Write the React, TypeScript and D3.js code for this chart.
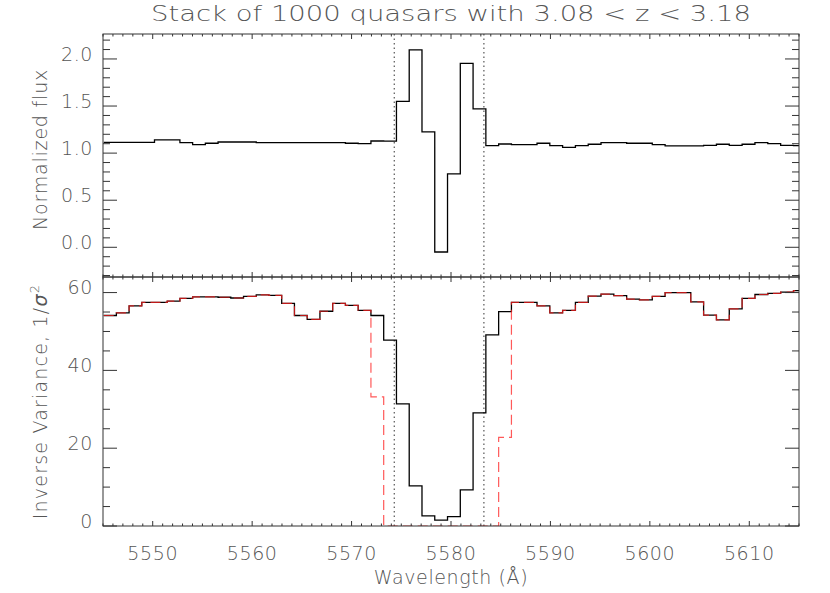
import React from "react";
import * as d3 from "d3";

// BOSS-like log-lambda pixel grid (bin edges)
const logLambdaStart = 3.743907;
const dLogLambda = 1e-4;

const title = "Stack of 1000 quasars with 3.08 < z < 3.18";

const flux = [
  1.115, 1.115, 1.115, 1.115, 1.14, 1.14, 1.111, 1.09, 1.105, 1.118,
  1.118, 1.118, 1.111, 1.111, 1.111, 1.111, 1.111, 1.111, 1.111, 1.105,
  1.1, 1.129, 1.128, 1.55, 2.096, 1.225, -0.05, 0.78, 1.954, 1.469,
  1.079, 1.097, 1.09, 1.09, 1.105, 1.079, 1.062, 1.079, 1.094, 1.111,
  1.111, 1.105, 1.105, 1.09, 1.076, 1.076, 1.076, 1.083, 1.094, 1.083,
  1.094, 1.111, 1.1, 1.083, 1.079,
];

const ivar = [
  54.1, 54.8, 56.6, 57.5, 57.5, 57.8, 58.5, 58.9, 58.9, 58.8,
  58.6, 59.0, 59.4, 59.3, 57.2, 54.1, 53.1, 55.2, 57.2, 56.7,
  55.4, 54.1, 47.8, 31.4, 10.3, 2.6, 1.5, 2.4, 9.3, 29.1,
  49.1, 55.1, 57.5, 57.5, 56.6, 54.8, 55.4, 57.5, 59.1, 59.6,
  59.2, 58.3, 58.1, 59.0, 60.0, 60.0, 57.6, 54.2, 53.0, 55.8,
  58.5, 59.5, 59.8, 60.1, 60.5,
];

const ivarMasked = [
  54.1, 54.8, 56.6, 57.5, 57.5, 57.8, 58.5, 58.9, 58.9, 58.8,
  58.6, 59.0, 59.4, 59.3, 57.2, 54.1, 53.1, 55.2, 57.2, 56.7,
  55.4, 33.2, 0, 0, 0, 0, 0, 0, 0, 0,
  0, 22.8, 57.5, 57.5, 56.6, 54.8, 55.4, 57.5, 59.1, 59.6,
  59.2, 58.3, 58.1, 59.0, 60.0, 60.0, 57.6, 54.2, 53.0, 55.8,
  58.5, 59.5, 59.8, 60.1, 60.5,
];

const maskBounds = [5574.29, 5583.31];
const xTicks = [5550, 5560, 5570, 5580, 5590, 5600, 5610];
const fluxTicks = [0, 0.5, 1.0, 1.5, 2.0];
const ivarTicks = [0, 20, 40, 60];

const W = 830;
const H = 593;
const left = 103;
const right = 799;
const topY0 = 34;
const midY = 277;
const botY1 = 526;

const FONT = "'DejaVu Sans', sans-serif";
const WEIGHT = 200;
const TXT = "#555";
const AX = "#333";

export default function App() {
  const n = flux.length;
  const edges = d3.range(n + 1).map((i) => Math.pow(10, logLambdaStart + i * dLogLambda));

  const x = d3.scaleLinear().domain([5545, 5615]).range([left, right]);
  const yTop = d3.scaleLinear().domain([-0.3155, 2.265]).range([midY, topY0]);
  const yBot = d3.scaleLinear().domain([0, 64]).range([botY1, midY]);

  const stepPath = (vals: number[], y: d3.ScaleLinear<number, number>) => {
    const pts: [number, number][] = edges.map((e, i) => [x(e), y(vals[Math.min(i, n - 1)])]);
    return d3.line().curve(d3.curveStepAfter)(pts) || "";
  };

  const xMinor = d3.range(5545, 5616, 1);
  const fluxMinor = d3.range(-0.3, 2.26, 0.1).map((v) => Math.round(v * 10) / 10);
  const ivarMinor = d3.range(0, 64, 5);

  const labelOffset = 5;

  const xTickMarks = (yAxis: number, dir: number, key: string) => (
    <g key={key}>
      {xMinor.map((t) => {
        const major = xTicks.includes(t);
        const len = major ? 5 : 2.5;
        return (
          <line key={t} x1={x(t)} x2={x(t)} y1={yAxis} y2={yAxis + dir * len} stroke={AX} strokeWidth={1} />
        );
      })}
    </g>
  );

  const yTickMarks = (
    ys: d3.ScaleLinear<number, number>,
    minors: number[],
    majors: number[],
    key: string
  ) => (
    <g key={key}>
      {minors.map((t) => {
        const major = majors.some((m) => Math.abs(m - t) < 1e-6);
        const len = major ? 14 : 7;
        const yy = ys(t);
        return (
          <g key={t}>
            <line x1={left} x2={left + len} y1={yy} y2={yy} stroke={AX} strokeWidth={1} />
            <line x1={right} x2={right - len} y1={yy} y2={yy} stroke={AX} strokeWidth={1} />
          </g>
        );
      })}
    </g>
  );

  const textProps = { fontFamily: FONT, fontWeight: WEIGHT, fill: TXT };

  return (
    <svg width={W} height={H} style={{ display: "block", position: "absolute", left: 0, top: 0 }}>
      <rect x={0} y={0} width={W} height={H} fill="#fff" />
      <defs>
        <clipPath id="clipTop">
          <rect x={left} y={topY0} width={right - left} height={midY - topY0} />
        </clipPath>
        <clipPath id="clipBot">
          <rect x={left} y={midY} width={right - left} height={botY1 - midY} />
        </clipPath>
      </defs>

      <text
        x={(left + right) / 2}
        y={21}
        textAnchor="middle"
        fontSize={22}
        textLength={600}
        lengthAdjust="spacingAndGlyphs"
        {...textProps}
      >
        {title}
      </text>

      {/* mask bounds */}
      {maskBounds.map((m) => (
        <line
          key={m}
          x1={x(m)}
          x2={x(m)}
          y1={topY0}
          y2={botY1}
          stroke="#333"
          strokeWidth={1}
          strokeDasharray="1.5,3"
        />
      ))}

      {/* top panel */}
      <path d={stepPath(flux, yTop)} fill="none" stroke="#000" strokeWidth={1.3} clipPath="url(#clipTop)" />
      {/* bottom panel */}
      <path d={stepPath(ivar, yBot)} fill="none" stroke="#000" strokeWidth={1.3} clipPath="url(#clipBot)" />
      <path
        d={stepPath(ivarMasked, yBot)}
        fill="none"
        stroke="#f22"
        strokeOpacity={0.75}
        strokeWidth={1.2}
        strokeDasharray="10,5"
        clipPath="url(#clipBot)"
      />

      {/* frames */}
      <rect x={left} y={topY0} width={right - left} height={midY - topY0} fill="none" stroke={AX} strokeWidth={1} />
      <rect x={left} y={midY} width={right - left} height={botY1 - midY} fill="none" stroke={AX} strokeWidth={1} />

      {xTickMarks(topY0, 1, "t1")}
      {xTickMarks(midY, -1, "t2")}
      {xTickMarks(midY, 1, "t3")}
      {xTickMarks(botY1, -1, "t4")}
      {yTickMarks(yTop, fluxMinor, fluxTicks, "y1")}
      {yTickMarks(yBot, ivarMinor, ivarTicks, "y2")}

      {/* x tick labels */}
      {xTicks.map((t) => (
        <text key={t} x={x(t)} y={560} textAnchor="middle" fontSize={19} letterSpacing={0.6} {...textProps}>
          {t}
        </text>
      ))}
      {fluxTicks.map((t) => (
        <text
          key={t}
          x={93}
          y={yTop(t) - labelOffset}
          dy="0.35em"
          textAnchor="end"
          fontSize={19}
          letterSpacing={0.6}
          {...textProps}
        >
          {d3.format(".1f")(t)}
        </text>
      ))}
      {ivarTicks.map((t) => (
        <text
          key={t}
          x={93}
          y={yBot(t) - labelOffset}
          dy="0.35em"
          textAnchor="end"
          fontSize={19}
          letterSpacing={0.6}
          {...textProps}
        >
          {t}
        </text>
      ))}

      <text x={(left + right) / 2} y={584} textAnchor="middle" fontSize={19} letterSpacing={0.6} {...textProps}>
        Wavelength (Å)
      </text>
      <text
        transform={`translate(47,${(topY0 + midY) / 2 - 6}) rotate(-90)`}
        textAnchor="middle"
        fontSize={19}
        letterSpacing={0.8}
        {...textProps}
      >
        Normalized flux
      </text>
      <text
        transform={`translate(47,${(midY + botY1) / 2}) rotate(-90)`}
        textAnchor="middle"
        fontSize={19}
        letterSpacing={1.2}
        {...textProps}
      >
        Inverse Variance, 1/
        <tspan fontStyle="italic">σ</tspan>
        <tspan dy="-8" fontSize={13}>2</tspan>
      </text>
    </svg>
  );
}
